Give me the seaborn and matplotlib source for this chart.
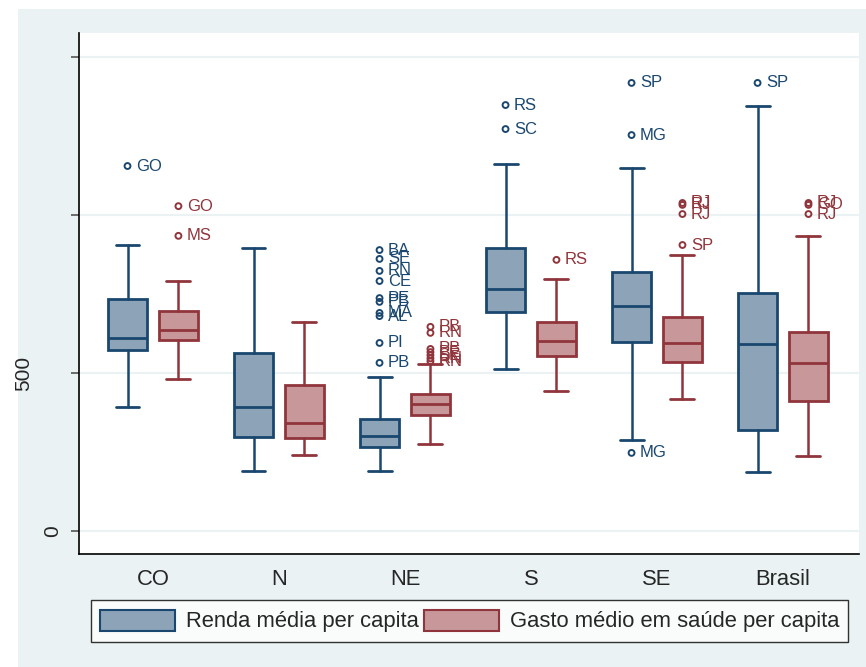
import numpy as np
import pandas as pd
import matplotlib
matplotlib.use("Agg")
import matplotlib.pyplot as plt
import matplotlib.patches as mpatches
import seaborn as sns

# ---------------- data ----------------
regions = ["CO", "N", "NE", "S", "SE", "Brasil"]

renda_whislo = [392, 190, 190, 513, 288, 187]
renda_q1     = [573, 297, 266, 693, 598, 320]
renda_med    = [611, 392, 301, 766, 712, 592]
renda_q3     = [734, 563, 354, 896, 820, 753]
renda_whishi = [905, 896, 487, 1161, 1149, 1345]

gasto_whislo = [481, 240, 275, 443, 418, 237]
gasto_q1     = [604, 294, 367, 554, 535, 411]
gasto_med    = [636, 342, 402, 601, 595, 532]
gasto_q3     = [696, 462, 434, 661, 677, 630]
gasto_whishi = [791, 661, 528, 797, 873, 934]

renda_out_region = ["CO", "NE", "NE", "NE", "NE", "NE", "NE", "NE", "NE", "NE", "NE",
                    "S", "S", "SE", "SE", "SE", "Brasil"]
renda_out_value  = [1155, 889, 861, 823, 791, 737, 725, 690, 680, 595, 532,
                    1348, 1272, 1418, 1253, 247, 1418]
renda_out_label  = ["GO", "BA", "SE", "RN", "CE", "PE", "PB", "MA", "AL", "PI", "PB",
                    "RS", "SC", "SP", "MG", "MG", "SP"]

gasto_out_region = ["CO", "CO", "NE", "NE", "NE", "NE", "NE", "NE", "NE",
                    "S", "SE", "SE", "SE", "SE", "Brasil", "Brasil", "Brasil"]
gasto_out_value  = [1028, 934, 646, 627, 576, 566, 556, 546, 537,
                    858, 1038, 1032, 1003, 905, 1038, 1032, 1003]
gasto_out_label  = ["GO", "MS", "PB", "RN", "PB", "PE", "SE", "RN", "RN",
                    "RS", "RJ", "RJ", "RJ", "SP", "RJ", "GO", "RJ"]

series_names = ["Renda média per capita", "Gasto médio em saúde per capita"]

# ---------------- style ----------------
sns.set_style("white")
plt.rcParams["font.family"] = ["Liberation Sans", "DejaVu Sans"]

navy = "#1A476F"
maroon = "#90353B"
navy_fill = "#8CA3B8"
maroon_fill = "#C8979A"
panel_bg = "#EAF2F3"

W, H = 866, 667
fig = plt.figure(figsize=(W / 100, H / 100), dpi=100, facecolor="white")
fig.patches.append(mpatches.Rectangle((18 / W, 0), 1 - 18 / W, 1 - 9 / H,
                                      transform=fig.transFigure, facecolor=panel_bg,
                                      edgecolor="none", zorder=-10))
ax = fig.add_axes([79 / W, 1 - 554 / H, 780 / W, 521 / H])
ax.set_facecolor("white")

offset = 0.202
bwidth = 0.31
capw = 0.19
pos = np.arange(len(regions))


def make_stats(lo, q1, med, q3, hi):
    return [dict(whislo=a, q1=b, med=c, q3=d, whishi=e, fliers=[])
            for a, b, c, d, e in zip(lo, q1, med, q3, hi)]


for stats, shift, edge, fill in [
    (make_stats(renda_whislo, renda_q1, renda_med, renda_q3, renda_whishi), -offset, navy, navy_fill),
    (make_stats(gasto_whislo, gasto_q1, gasto_med, gasto_q3, gasto_whishi), offset, maroon, maroon_fill),
]:
    ax.bxp(stats, positions=pos + shift, widths=bwidth, capwidths=capw,
           patch_artist=True, showfliers=False, manage_ticks=False,
           boxprops=dict(facecolor=fill, edgecolor=edge, linewidth=2.0),
           medianprops=dict(color=edge, linewidth=2.0),
           whiskerprops=dict(color=edge, linewidth=1.8),
           capprops=dict(color=edge, linewidth=2.0), zorder=3)

# outliers
idx = {r: i for i, r in enumerate(regions)}
for reg, val, lab, shift, col in [
    (renda_out_region, renda_out_value, renda_out_label, -offset, navy),
    (gasto_out_region, gasto_out_value, gasto_out_label, offset, maroon),
]:
    df = pd.DataFrame({"x": [idx[r] + shift for r in reg], "y": val, "label": lab})
    sns.scatterplot(data=df, x="x", y="y", ax=ax, marker="o", s=18,
                    facecolor="none", edgecolor=col, linewidth=1.4, zorder=4,
                    legend=False)
    for _, row in df.iterrows():
        ax.annotate(row["label"], (row["x"], row["y"]), xytext=(6, 0),
                    textcoords="offset points", va="center", ha="left",
                    fontsize=12, color=col, zorder=5)

ax.set_xlim(-0.587, 5.603)
ax.set_ylim(-73, 1576)

ax.set_yticks([0, 500, 1000, 1500])
ax.set_yticklabels(["0", "", "", ""], rotation=90, va="center", fontsize=15)
ax.set_ylabel("500", fontsize=15)
ax.yaxis.set_label_coords(-0.059, (500 + 73) / (1576 + 73))
ax.tick_params(axis="y", length=6, width=1.2, color="#555555", pad=6, left=True)
ax.set_xticks(pos)
ax.set_xticklabels(regions, fontsize=15.8)
ax.tick_params(axis="x", length=0, pad=11)
ax.set_xlabel("")

ax.grid(axis="y", color=panel_bg, linewidth=1.5, zorder=0)
ax.set_axisbelow(True)
for s in ["top", "right"]:
    ax.spines[s].set_visible(False)
for s in ["left", "bottom"]:
    ax.spines[s].set_color("black")
    ax.spines[s].set_linewidth(1.2)

handles = [mpatches.Patch(facecolor=navy_fill, edgecolor=navy, linewidth=1.5, label=series_names[0]),
           mpatches.Patch(facecolor=maroon_fill, edgecolor=maroon, linewidth=1.5, label=series_names[1])]
leg = fig.legend(handles=handles, loc="center", bbox_to_anchor=(469.5 / W, 1 - 621 / H),
                 ncol=2, fontsize=15.8, frameon=True, fancybox=False,
                 handlelength=3.4, handleheight=1.1, handletextpad=0.5,
                 columnspacing=0.25, borderpad=0.42, borderaxespad=0)
leg.get_frame().set_edgecolor("black")
leg.get_frame().set_linewidth(1.0)

fig.savefig("out.png", dpi=100, facecolor="white")
